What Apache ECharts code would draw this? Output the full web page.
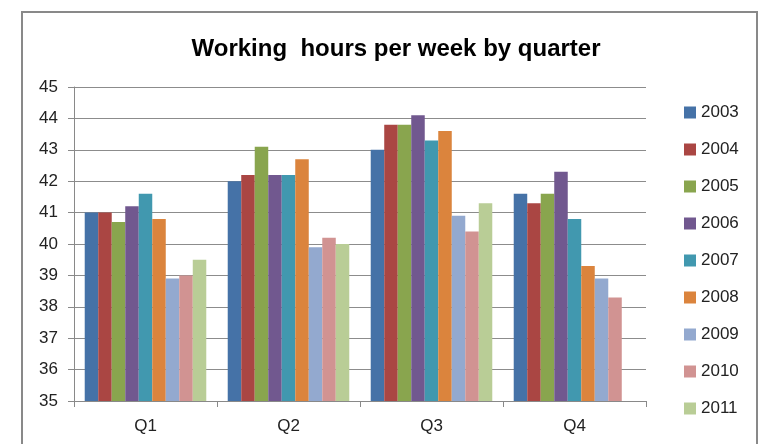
<!DOCTYPE html>
<html>
<head>
<meta charset="utf-8">
<script src="https://cdn.jsdelivr.net/npm/echarts@6/dist/echarts.min.js"></script>
<style>html,body{margin:0;padding:0;background:#fff}#c{width:775px;height:444px}</style>
</head>
<body>
<div id="c"></div>
<script>
var categories = ['Q1', 'Q2', 'Q3', 'Q4'];
var years = ['2003', '2004', '2005', '2006', '2007', '2008', '2009', '2010', '2011'];
var v2003 = [41.0, 42.0, 43.0, 41.6];
var v2004 = [41.0, 42.2, 43.8, 41.3];
var v2005 = [40.7, 43.1, 43.8, 41.6];
var v2006 = [41.2, 42.2, 44.1, 42.3];
var v2007 = [41.6, 42.2, 43.3, 40.8];
var v2008 = [40.8, 42.7, 43.6, 39.3];
var v2009 = [38.9, 39.9, 40.9, 38.9];
var v2010 = [39.0, 40.2, 40.4, 38.3];
var v2011 = [39.5, 40.0, 41.3, null];
var yTicks = [35, 36, 37, 38, 39, 40, 41, 42, 43, 44, 45];

var values = [v2003, v2004, v2005, v2006, v2007, v2008, v2009, v2010, v2011];
var colors = ['#4572A7', '#AA4643', '#89A54E', '#71588F', '#4198AF', '#DB843D', '#93A9CF', '#D19392', '#B9CD96'];
var font = 'Liberation Sans, Arial, sans-serif';

var chart = echarts.init(document.getElementById('c'), null, {renderer: 'canvas'});
var series = years.map(function (y, i) {
  return {
    name: y,
    type: 'bar',
    data: values[i],
    barGap: '0%',
    barCategoryGap: '15%',
    itemStyle: {color: colors[i]},
    emphasis: {disabled: true}
  };
});

chart.setOption({
  animation: false,
  color: colors,
  title: {
    text: 'Working  hours per week by quarter',
    left: 391,
    textAlign: 'center',
    top: 32,
    textStyle: {fontFamily: font, fontWeight: 'bold', fontSize: 24, color: '#000'}
  },
  graphic: [{
    type: 'rect',
    shape: {x: 22, y: 12, width: 735, height: 500},
    style: {fill: 'none', stroke: '#898989', lineWidth: 2},
    silent: true
  }],
  legend: {
    orient: 'vertical',
    left: 679,
    top: 99,
    itemWidth: 12,
    itemHeight: 12,
    itemGap: 20,
    icon: 'rect',
    textStyle: {fontFamily: font, fontSize: 17, color: '#222', lineHeight: 16, padding: [0, 0, 0, 0]},
    data: years
  },
  grid: {left: 74, right: 129, top: 87, bottom: 43, containLabel: false},
  xAxis: {
    type: 'category',
    data: categories,
    axisLine: {show: true, lineStyle: {color: '#898989', width: 1}},
    axisTick: {show: true, length: 6, lineStyle: {color: '#898989'}},
    axisLabel: {fontFamily: font, fontSize: 17, color: '#222', margin: 17}
  },
  yAxis: {
    type: 'value',
    min: yTicks[0],
    max: yTicks[yTicks.length - 1],
    interval: 1,
    axisLine: {show: true, lineStyle: {color: '#898989', width: 1}},
    axisTick: {show: true, length: 6, lineStyle: {color: '#898989'}},
    axisLabel: {fontFamily: font, fontSize: 17, color: '#222', margin: 16},
    splitLine: {show: true, lineStyle: {color: '#8c8c8c', width: 1}}
  },
  series: series
});
</script>
</body>
</html>
